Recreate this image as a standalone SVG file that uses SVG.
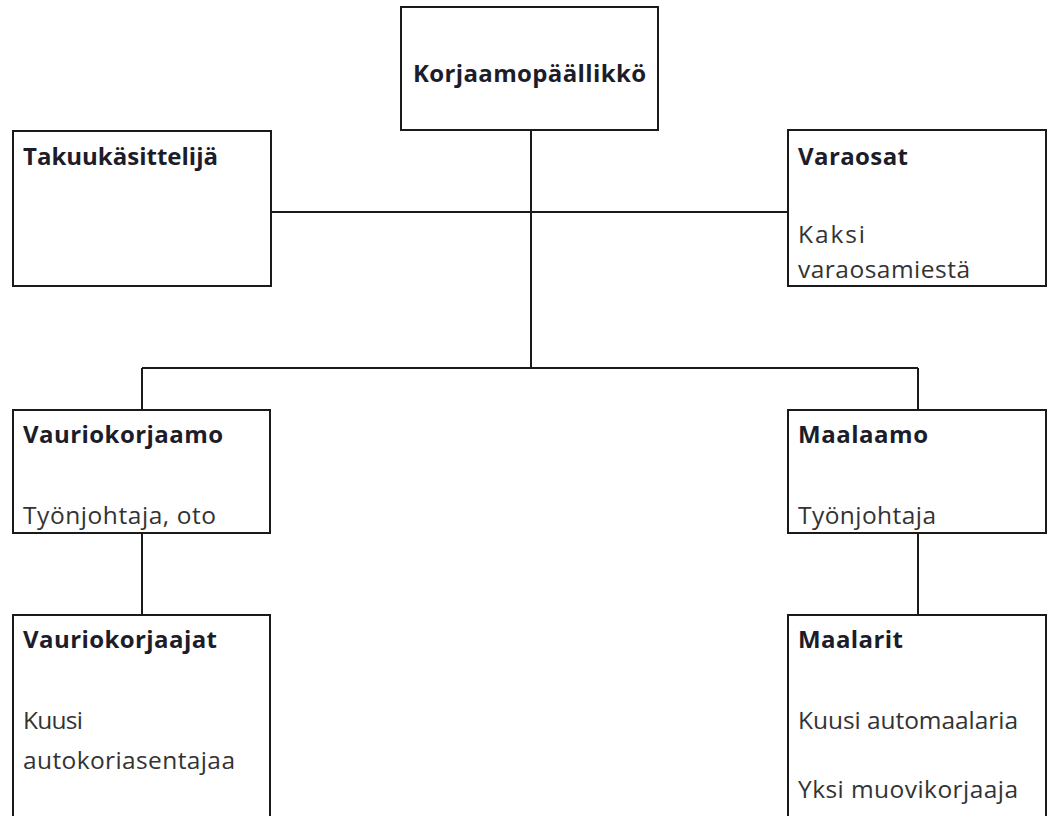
<svg xmlns="http://www.w3.org/2000/svg" width="1047" height="816" viewBox="0 0 1047 816">
<style>
.box{fill:#fff;stroke:#1a1a1a;stroke-width:2}
.con{fill:none;stroke:#1a1a1a;stroke-width:2}
.h{font-family:"Open Sans","DejaVu Sans",sans-serif;font-weight:bold;font-size:24px;fill:#1c1c2a}
.t{font-family:"Open Sans","DejaVu Sans",sans-serif;font-size:24.5px;fill:#333}
</style>
<rect width="1047" height="816" fill="#fff"/>
<g id="connectors">
<line class="con" x1="531" y1="130" x2="531" y2="368"/>
<line class="con" x1="271" y1="212" x2="788" y2="212"/>
<line class="con" x1="142" y1="368" x2="918" y2="368"/>
<line class="con" x1="142" y1="368" x2="142" y2="410"/>
<line class="con" x1="918" y1="368" x2="918" y2="410"/>
<line class="con" x1="142" y1="533" x2="142" y2="615"/>
<line class="con" x1="918" y1="533" x2="918" y2="615"/>
</g>
<g id="korjaamopaallikko">
<rect class="box" x="401" y="7" width="257" height="123"/>
<text class="h" x="413" y="82" textLength="233">Korjaamopäällikkö</text>
</g>
<g id="takuukasittelija">
<rect class="box" x="13" y="131" width="258" height="155"/>
<text class="h" x="23" y="165" textLength="195">Takuukäsittelijä</text>
</g>
<g id="varaosat">
<rect class="box" x="788" y="130" width="258" height="156"/>
<text class="h" x="798" y="165" textLength="110">Varaosat</text>
<text class="t" x="798" y="243" textLength="67">Kaksi</text>
<text class="t" x="798" y="278" textLength="172">varaosamiestä</text>
</g>
<g id="vauriokorjaamo">
<rect class="box" x="13" y="410" width="257" height="123"/>
<text class="h" x="23" y="443" textLength="200">Vauriokorjaamo</text>
<text class="t" x="23" y="524" textLength="193">Työnjohtaja, oto</text>
</g>
<g id="maalaamo">
<rect class="box" x="788" y="410" width="258" height="123"/>
<text class="h" x="798" y="443" textLength="130">Maalaamo</text>
<text class="t" x="798" y="524" textLength="138">Työnjohtaja</text>
</g>
<g id="vauriokorjaajat">
<rect class="box" x="13" y="615" width="257" height="210"/>
<text class="h" x="23" y="648" textLength="194">Vauriokorjaajat</text>
<text class="t" x="23" y="729" textLength="60">Kuusi</text>
<text class="t" x="23" y="769" textLength="212">autokoriasentajaa</text>
</g>
<g id="maalarit">
<rect class="box" x="788" y="615" width="258" height="210"/>
<text class="h" x="798" y="648" textLength="105">Maalarit</text>
<text class="t" x="798" y="729" textLength="220">Kuusi automaalaria</text>
<text class="t" x="798" y="798" textLength="220">Yksi muovikorjaaja</text>
</g>
</svg>
